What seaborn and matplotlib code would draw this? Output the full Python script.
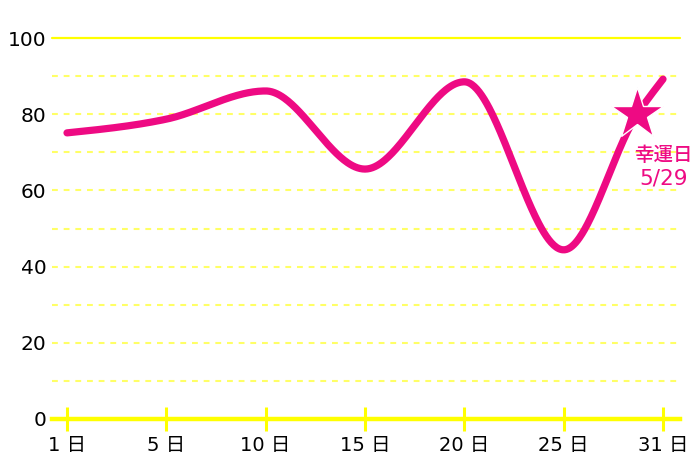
import numpy as np
import pandas as pd
import matplotlib
matplotlib.use("Agg")
import matplotlib.pyplot as plt
import seaborn as sns

# ---- data ----
day_labels = ["1 日", "5 日", "10 日", "15 日", "20 日", "25 日", "31 日"]
days = [1, 5, 10, 15, 20, 25, 31]
values = [75.1, 78.7, 86.1, 65.6, 88.5, 44.4, 89.2]
lucky_title = "幸運日"
lucky_date = "5/29"
lucky_day = 29
lucky_pos = 5.74      # where the lucky-day star sits along the category axis
lucky_value = 80.0
y_ticks = [0, 20, 40, 60, 80, 100]
y_grid = [10, 20, 30, 40, 50, 60, 70, 80, 90]

PINK = "#EE0A83"
YELLOW = "#FFFF00"
DASH = "#FFFF66"

sns.set_theme(style="white")
plt.rcParams["font.family"] = ["DejaVu Sans", "Noto Sans CJK JP"]

# line passes through the category points and the lucky-day point
px = list(range(len(values)))
py = list(values)
px.insert(6, lucky_pos)
py.insert(6, lucky_value)


def monotone_x(x, y, n=80):
    """Monotone cubic (d3 curveMonotoneX style) drawing of a line."""
    x = np.asarray(x, float)
    y = np.asarray(y, float)
    h = np.diff(x)
    s = np.diff(y) / h
    m = np.zeros_like(y)
    for i in range(1, len(y) - 1):
        p = (s[i - 1] * h[i] + s[i] * h[i - 1]) / (h[i - 1] + h[i])
        m[i] = (np.sign(s[i - 1]) + np.sign(s[i])) * min(abs(s[i - 1]), abs(s[i]), 0.5 * abs(p))
    m[0] = (3 * s[0] - m[1]) / 2
    m[-1] = (3 * s[-1] - m[-2]) / 2
    xs, ys = [], []
    for i in range(len(y) - 1):
        t = np.linspace(0, 1, n, endpoint=(i == len(y) - 2))
        h00 = 2 * t**3 - 3 * t**2 + 1
        h10 = t**3 - 2 * t**2 + t
        h01 = -2 * t**3 + 3 * t**2
        h11 = t**3 - t**2
        xs.append(x[i] + t * h[i])
        ys.append(h00 * y[i] + h10 * h[i] * m[i] + h01 * y[i + 1] + h11 * h[i] * m[i + 1])
    return np.concatenate(xs), np.concatenate(ys)


cx, cy = monotone_x(px, py)
curve = pd.DataFrame({"x": cx, "y": cy})

fig = plt.figure(figsize=(7, 4.67), dpi=100)
ax = fig.add_axes([52 / 700, 1 - 419 / 467, (680 - 52) / 700, (419 - 38) / 467])

# grid lines
for g in y_grid:
    ax.axhline(g, color=DASH, lw=1.5, ls=(0, (2.8, 2.8)), zorder=1)
ax.axhline(100, color=YELLOW, lw=1.6, zorder=1, clip_on=False)

sns.lineplot(data=curve, x="x", y="y", ax=ax, color=PINK, lw=5.2,
             solid_capstyle="round", zorder=3, sort=False, estimator=None)

ax.plot([lucky_pos], [lucky_value], marker="*", ms=39, color=PINK,
        mec="white", mew=1.0, zorder=4, clip_on=False)
ax.text(lucky_pos + 0.26, lucky_value - 10.8, lucky_title, color=PINK,
        ha="center", va="center", fontsize=14, zorder=5,
        family=["Noto Sans CJK JP"], fontweight="medium")
ax.text(lucky_pos + 0.265, lucky_value - 17.0, lucky_date, color=PINK,
        ha="center", va="center", fontsize=15.5, zorder=5)

ax.set_xlim(-0.151, 6.171)
ax.set_ylim(0, 100)
ax.set_xticks(range(len(day_labels)))
ax.set_xticklabels(day_labels)
ax.set_yticks(y_ticks)
ax.set_yticklabels([str(v) for v in y_ticks])
ax.set_xlabel("")
ax.set_ylabel("")

for s in ["top", "right", "left"]:
    ax.spines[s].set_visible(False)
ax.spines["bottom"].set_color(YELLOW)
ax.spines["bottom"].set_linewidth(3.2)
ax.spines["bottom"].set_zorder(2)

ax.tick_params(axis="x", bottom=True, direction="inout", length=17, width=2.2,
               color=YELLOW, labelsize=14, labelcolor="black", pad=4)
ax.tick_params(axis="y", left=False, length=0, labelsize=14.5, labelcolor="black", pad=4)
ax.set_facecolor("white")
fig.patch.set_facecolor("white")

fig.savefig("out.png", dpi=100)
